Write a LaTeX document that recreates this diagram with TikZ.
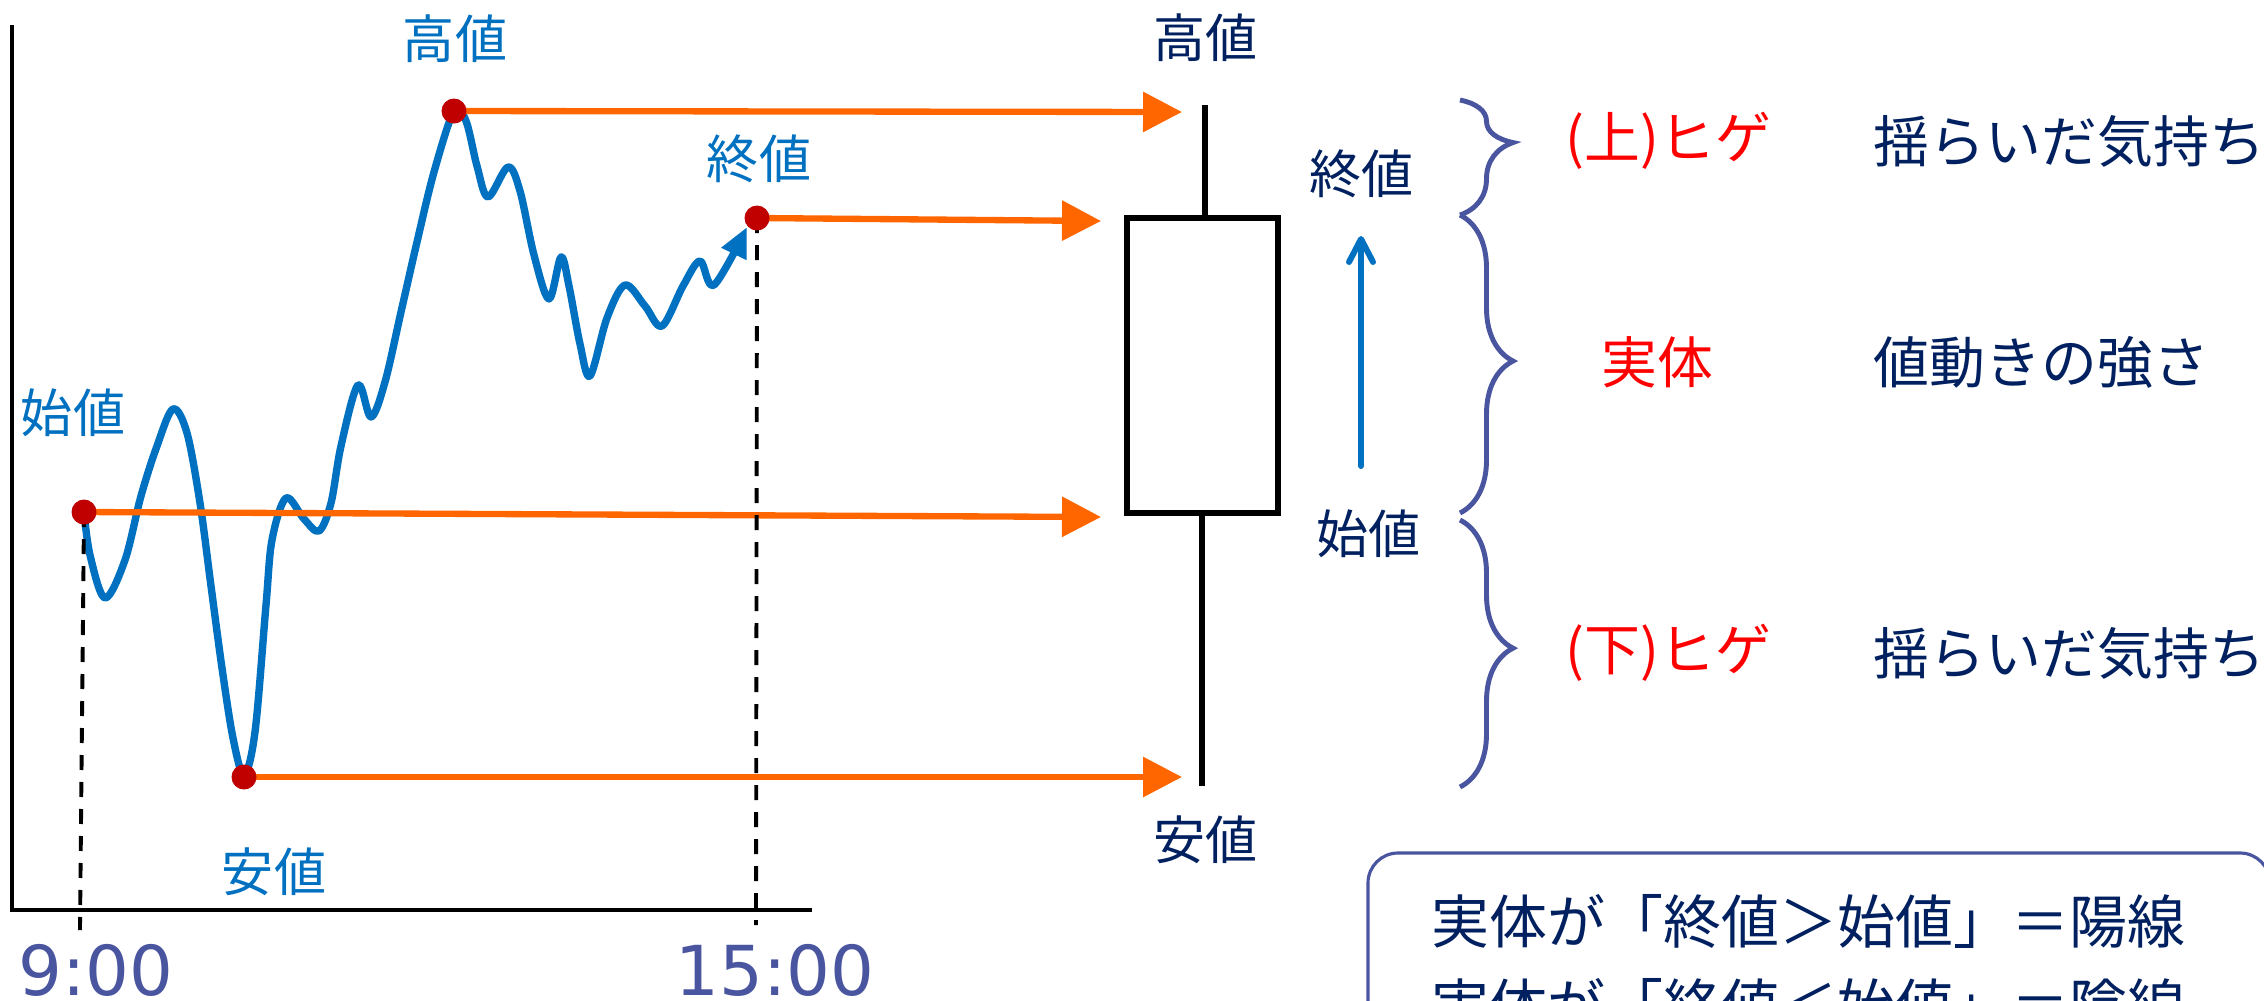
\documentclass[tikz,border=0pt]{standalone}
\usepackage{fontspec}
\setmainfont{Noto Sans CJK JP}
\newfontfamily\digitfont{DejaVu Sans}
\usetikzlibrary{arrows.meta,decorations.pathreplacing}
\definecolor{cblue}{HTML}{0070C0}
\definecolor{corange}{HTML}{FF6600}
\definecolor{cdot}{HTML}{C00000}
\definecolor{cnavy}{HTML}{002060}
\definecolor{cslate}{HTML}{4A55A0}
\definecolor{cred}{HTML}{FF0000}
\tikzset{
  chartlbl/.style={inner sep=0pt, text=cblue, font=\fontsize{14.8pt}{18pt}\selectfont},
  candlelbl/.style={inner sep=0pt, text=cnavy, font=\fontsize{14.8pt}{18pt}\selectfont},
  redlbl/.style={inner sep=0pt, anchor=west, text=cred, font=\fontsize{15.9pt}{19pt}\selectfont},
  navylbl/.style={inner sep=0pt, anchor=west, text=cnavy, font=\fontsize{15.9pt}{19pt}\selectfont},
  notelbl/.style={inner sep=0pt, anchor=west, text=cnavy, font=\fontsize{16.5pt}{20pt}\selectfont},
  timelbl/.style={inner sep=0pt, text=cslate, font=\digitfont\fontsize{19.6pt}{23pt}\selectfont},
  pricedot/.style={circle, fill=cdot, inner sep=0pt, minimum size=2.5mm},
  oarrow/.style={draw=corange, line width=1.8pt, -{Triangle[length=3.9mm,width=3.9mm]}},
  guide/.style={draw=black, line width=1.1pt, dash pattern=on 1.5mm off 1.2mm},
  axisline/.style={draw=black, line width=1pt},
  wick/.style={draw=black, line width=1.5pt},
  cbrace/.style={draw=cslate, line width=1.4pt, decorate},
}
\begin{document}
\begin{tikzpicture}[x=0.1mm,y=-0.1mm]
\useasboundingbox (0,0) rectangle (2264,1000);
\clip (0,0) rectangle (2264,1000);

% axes
\coordinate (axTop) at (12,25);
\coordinate (axOrg) at (12,910);
\coordinate (axEnd) at (812,910);
\draw[axisline] (axTop) -- (axOrg) -- (axEnd);

% price points
\coordinate (open) at (84,512);
\coordinate (high) at (454,111);
\coordinate (low) at (244,777);
\coordinate (close) at (757,218);

% price curve
\draw[cblue, line width=2.1pt, line join=round, -{Triangle[length=3mm,width=2.6mm]}]
  plot[smooth, tension=0.55] coordinates {
  (84,512) (90,555) (105,598) (125,560) (141,496) (157,446) (173,409)
  (187,433) (200,503) (211,586) (222,668) (233,738) (244,775)
  (255,732) (266,605) (272,540) (286,498) (304,519) (319,531)
  (331,503) (341,446) (358,385) (371,417) (385,382) (401,312)
  (417,242) (434,172) (454,111) (466,121) (477,166) (488,197)
  (508,167) (520,191) (534,255) (549,299) (561,257) (569,286)
  (580,344) (590,376) (607,318) (625,285) (645,306) (662,326)
  (683,286) (700,261) (714,285) (747,227)};

% arrow ends at candle
\coordinate (hiE) at (1182,112);
\coordinate (clE) at (1101,221);
\coordinate (opE) at (1101,517);
\coordinate (loE) at (1182,777);
\draw[oarrow] (high) -- (hiE);
\draw[oarrow] (close) -- (clE);
\draw[oarrow] (open) -- (opE);
\draw[oarrow] (low) -- (loE);

% dashed guides
\coordinate (g1) at (80,930);
\coordinate (g2) at (756,925);
\draw[guide] (open) -- (g1);
\draw[guide] (close) -- (g2);

% dots
\node[pricedot] (openDot) at (open) {};
\node[pricedot] (highDot) at (high) {};
\node[pricedot] (lowDot) at (low) {};
\node[pricedot] (closeDot) at (close) {};

% chart labels
\node[chartlbl] (lHigh) at (455,39) {高値};
\node[chartlbl] (lClose) at (759,159) {終値};
\node[chartlbl] (lOpen) at (73,413) {始値};
\node[chartlbl] (lLow) at (274,872) {安値};
\node[timelbl] (t1) at (96,970) {9:00};
\node[timelbl] (t2) at (775,970) {15:00};

% candle
\node[draw=black, fill=white, line width=1.7pt, inner sep=0pt,
      minimum width=15.1mm, minimum height=29.5mm] (body) at (1202.5,365.5) {};
\coordinate (wickTop) at (1205,105);
\coordinate (wickBot) at (1202,786);
\draw[wick] (wickTop) -- (wickTop |- body.north);
\draw[wick] (wickBot |- body.south) -- (wickBot);
\node[candlelbl] (cHigh) at (1205,38) {高値};
\node[candlelbl] (cLow) at (1205,840) {安値};
\node[candlelbl] (cClose) at (1361,174) {終値};
\node[candlelbl] (cOpen) at (1368,534) {始値};
\coordinate (upB) at (1361,466);
\coordinate (upT) at (1361,236);
\draw[cblue, line width=1.7pt, line cap=round, line join=round,
      -{Straight Barb[length=2.3mm,width=2.4mm,line cap=round,line join=round]}] (upB) -- (upT);

% braces
\coordinate (b1a) at (1460,100);
\coordinate (b1b) at (1460,215);
\coordinate (b2b) at (1460,513);
\coordinate (b3a) at (1460,520);
\coordinate (b3b) at (1460,787);
\draw[cbrace, decoration={brace, amplitude=5.3mm, aspect=0.37}] (b1a) -- (b1b);
\draw[cbrace, decoration={brace, amplitude=5.3mm, aspect=0.49}] (b1b) -- (b2b);
\draw[cbrace, decoration={brace, amplitude=5.3mm, aspect=0.48}] (b3a) -- (b3b);

% right texts
\node[redlbl] (rUp) at (1565,141) {(上)ヒゲ};
\node[navylbl] (dUp) at (1873,141) {揺らいだ気持ち};
\node[redlbl] (rBody) at (1601,362) {実体};
\node[navylbl] (dBody) at (1873,362) {値動きの強さ};
\node[redlbl] (rLow) at (1565,653) {(下)ヒゲ};
\node[navylbl] (dLow) at (1873,653) {揺らいだ気持ち};

% note box
\draw[draw=cslate, fill=white, line width=0.9pt, rounded corners=3mm] (1368,853) rectangle (2270,1150);
\node[notelbl] (n1) at (1431,921) {実体が「終値＞始値」＝陽線};
\node[notelbl] (n2) at (1431,1005) {実体が「終値＜始値」＝陰線};
\end{tikzpicture}
\end{document}
